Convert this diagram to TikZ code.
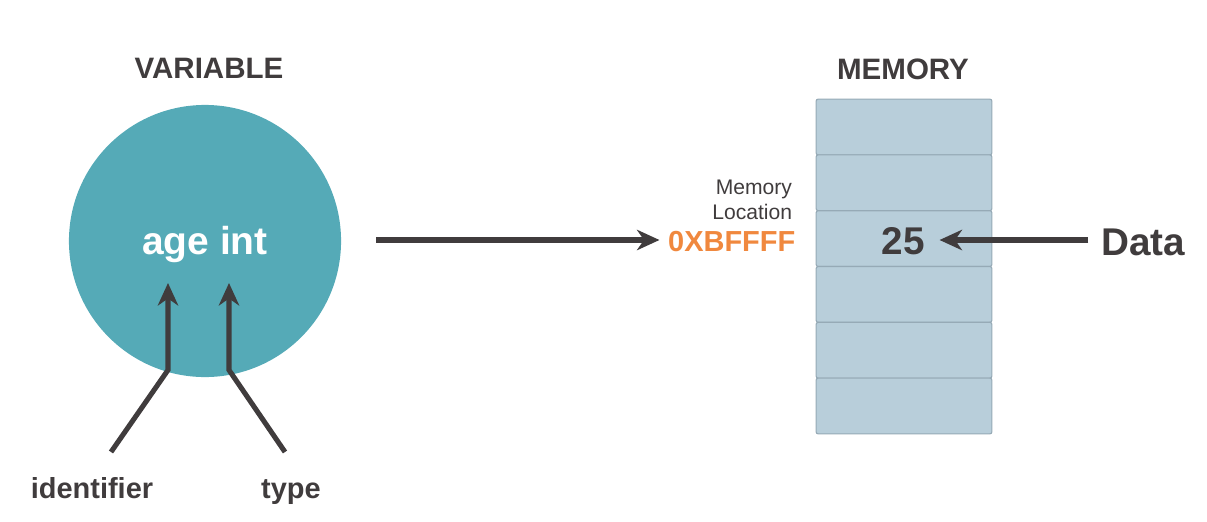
\documentclass[tikz,border=0pt]{standalone}
\usepackage{fontspec}
\setmainfont{Liberation Sans}
\usepackage{tikz}
\usetikzlibrary{arrows.meta,positioning,calc}

\definecolor{tealvar}{RGB}{85,170,183}
\definecolor{cellfill}{RGB}{184,206,218}
\definecolor{celldraw}{RGB}{150,170,182}
\definecolor{darktext}{RGB}{64,60,61}
\definecolor{addrorange}{RGB}{240,136,62}

\begin{document}
\begin{tikzpicture}[x=0.025cm, y=-0.025cm,
    title/.style={font=\fontsize{21}{24}\selectfont\bfseries, text=darktext},
    varcirc/.style={circle, fill=tealvar, minimum size=193.5pt, inner sep=0pt},
    cell/.style={draw=celldraw, fill=cellfill, rounded corners=1.5pt, line width=0.8pt,
      minimum width=125pt, minimum height=39.7pt, inner sep=0pt},
    lab/.style={font=\fontsize{20.6}{24}\selectfont\bfseries, text=darktext, anchor=base},
    big/.style={font=\fontsize{27.5}{30}\selectfont\bfseries, text=darktext},
    arrow/.style={-{Stealth[length=16pt, width=14.5pt, inset=5pt]}, line width=3.6pt, draw=darktext}
  ]
    \useasboundingbox (0,0) rectangle (1207,521);

    % variable side
    \node[title] (vartitle) at (209,68) {VARIABLE};
    \node[varcirc] (var) at (205,241) {};
    \node[font=\fontsize{27.7}{30}\selectfont\bfseries, text=white, anchor=base]
      (varname) at (205,254) {age int};

    \node[lab] (ident) at (92,498) {identifier};
    \node[lab] (type) at (291,498) {type};

    \coordinate (identfoot) at (111,452);
    \coordinate (identbend) at (168,370);
    \coordinate (identtip) at (168,283);
    \coordinate (typefoot) at (285,452);
    \coordinate (typebend) at (229,370);
    \coordinate (typetip) at (229,283);

    \draw[arrow] (identfoot) -- (identbend) -- (identtip);
    \draw[arrow] (typefoot) -- (typebend) -- (typetip);

    % memory side
    \node[title] (memtitle) at (903,69) {MEMORY};
    \foreach \i in {0,...,5}
      \node[cell] (cell\i) at (904,{127+55.8*\i}) {};
    \node[big, inner sep=10.5pt] (val) at (903,241) {25};

    \node[font=\fontsize{15}{17.5}\selectfont, text=darktext, align=right, anchor=east]
      (loclab) at (797,200) {Memory\\Location};
    \node[font=\fontsize{20.6}{24}\selectfont\bfseries, text=addrorange, anchor=east, inner sep=1pt]
      (addr) at (797,242) {0XBFFFF};

    \node[big, anchor=west, inner sep=0pt] (data) at (1101,242) {Data};

    \coordinate (varout) at (376,240);
    \draw[arrow] (varout) -- ([xshift=-5pt]addr.west |- varout);
    \draw[arrow] ([xshift=-9pt]data.west |- varout) -- (val.east |- varout);
\end{tikzpicture}
\end{document}
